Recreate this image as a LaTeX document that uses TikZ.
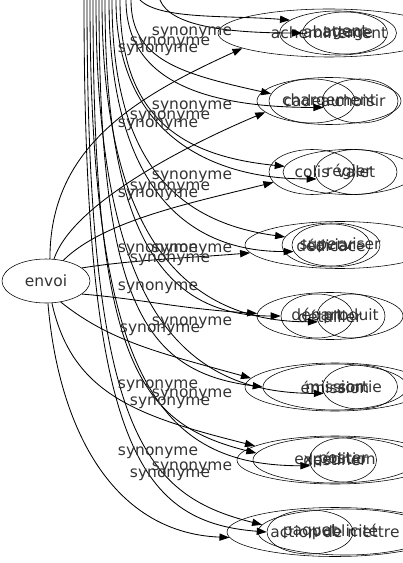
\documentclass[tikz,border=0pt]{standalone}
\usepackage{fontspec}
\setmainfont{DejaVu Sans}
\usetikzlibrary{shapes.geometric, arrows.meta}

\begin{document}
\begin{tikzpicture}[x=0.025cm, y=-0.025cm, font=\fontsize{11}{13}\selectfont,
  mot/.style={draw, ellipse, inner sep=0pt, text=black!80},
  ell/.style 2 args={minimum width=#1*0.025cm, minimum height=#2*0.025cm},
  syn/.style={-{Triangle[length=2.5mm, width=1.8mm]}, line width=0.6pt},
  lab/.style={text=black!80, inner sep=0pt}]
\useasboundingbox (0,0) rectangle (402,563);

\node[mot, ell={88}{44}] (envoi) at (46,281) {envoi};

% les mots d'arrivee
\node[mot, ell={222}{48}] (acheminement) at (329,33) {\makebox[0pt]{acheminement}};
\node[mot, ell={117}{44}] (abattage) at (338,33) {\makebox[0pt]{abattage}};
\node[mot, ell={85}{42}] (agent) at (345,33) {\makebox[0pt]{agent}};

\node[mot, ell={144}{47}] (chargement) at (329,101) {\makebox[0pt]{chargement}};
\node[mot, ell={86}{44}] (cadeau) at (312,101) {\makebox[0pt]{cadeau}};
\node[mot, ell={76}{44}] (choisir) at (360,101) {\makebox[0pt]{choisir}};

\node[mot, ell={86}{45}] (colis) at (312,172) {\makebox[0pt]{colis}};
\node[mot, ell={132}{45}] (regler) at (349,172) {\makebox[0pt]{régler}};
\node[mot, ell={82}{45}] (valet) at (356,172) {\makebox[0pt]{valet}};

\node[mot, ell={190}{47}] (superviser) at (340,245) {\makebox[0pt]{superviser}};
\node[mot, ell={98}{44}] (dedicace) at (331,245) {\makebox[0pt]{dédicace}};
\node[mot, ell={78}{42}] (caviar) at (331,245) {\makebox[0pt]{caviar}};

\node[mot, ell={146}{47}] (detailler) at (330,316) {\makebox[0pt]{détailler}};
\node[mot, ell={72}{44}] (depart) at (317,316) {\makebox[0pt]{départ}};
\node[mot, ell={68}{44}] (produit) at (351,316) {\makebox[0pt]{produit}};

\node[mot, ell={180}{48}] (emission) at (335,387) {\makebox[0pt]{émission}};
\node[mot, ell={144}{46}] (mission) at (335,387) {\makebox[0pt]{mission}};
\node[mot, ell={75}{44}] (sortie) at (360,387) {\makebox[0pt]{sortie}};

\node[mot, ell={196}{48}] (expedition) at (335,460) {\makebox[0pt]{expédition}};
\node[mot, ell={164}{46}] (destiner) at (335,460) {\makebox[0pt]{destiner}};
\node[mot, ell={67}{44}] (poster) at (343,460) {\makebox[0pt]{poster}};

\node[mot, ell={216}{49}] (action) at (335,532) {\makebox[0pt]{action de mettre}};
\node[mot, ell={174}{46}] (publicite) at (345,532) {\makebox[0pt]{publicité}};
\node[mot, ell={86}{44}] (paquet) at (310,532) {\makebox[0pt]{paquet}};

% bouts libres en haut
\foreach \n/\x in {t1/140, t2/160, t3/131, t4/126, t5/120, t6/116, t7/112, t8/109,
                   t9/105, t10/102, t11/99, t12/96, t13/93, t14/90, t15/87, t16/84}
  \coordinate (\n) at (\x,0);

% depuis envoi
\draw[syn] (envoi.80) .. controls +(0,-110) and +(-110,50) .. (acheminement.190);
\draw[syn] (envoi.70) .. controls +(20,-60) and +(-60,25) .. (chargement.190);
\draw[syn] (envoi.50) .. controls +(40,-40) and +(-80,20) .. (colis.195);
\draw[syn] (envoi.20) .. controls +(50,-8) and +(-60,5) .. (superviser.185);
\draw[syn] (envoi.-20) .. controls +(60,5) and +(-80,-5) .. (detailler.178);
\draw[syn] (envoi.-55) .. controls +(50,40) and +(-90,-25) .. (emission.174);
\draw[syn] (envoi.-75) .. controls +(20,90) and +(-120,-30) .. (expedition.170);
\draw[syn] (envoi.-85) .. controls +(10,120) and +(-120,-5) .. (action.183);

% depuis le haut
\draw[syn] (t1) .. controls +(20,20) and +(-60,-5) .. (abattage.165);
\draw[syn] (t2) .. controls +(10,25) and +(-80,0) .. (agent.180);
\draw[syn] (t3) .. controls +(0,60) and +(-90,-20) .. (cadeau.170);
\draw[syn] (t4) .. controls +(0,80) and +(-120,0) .. (choisir.190);
\draw[syn] (t5) .. controls +(0,120) and +(-100,-10) .. (regler.175);
\draw[syn] (t6) .. controls +(0,130) and +(-110,0) .. (valet.190);
\draw[syn] (t7) .. controls +(0,160) and +(-110,-15) .. (dedicace.170);
\draw[syn] (t8) .. controls +(0,170) and +(-120,0) .. (caviar.190);
\draw[syn] (t9) .. controls +(0,230) and +(-120,0) .. (depart.180);
\draw[syn] (t10) .. controls +(0,240) and +(-130,0) .. (produit.190);
\draw[syn] (t11) .. controls +(0,300) and +(-120,-15) .. (mission.180);
\draw[syn] (t12) .. controls +(0,310) and +(-140,0) .. (sortie.190);
\draw[syn] (t13) .. controls +(0,360) and +(-120,-30) .. (destiner.175);
\draw[syn] (t14) .. controls +(0,380) and +(-150,0) .. (poster.190);
\draw[syn] (t15) .. controls +(0,430) and +(-120,-30) .. (publicite.175);
\draw[syn] (t16) .. controls +(0,440) and +(-130,-10) .. (paquet.180);

% etiquettes
\foreach \x/\y [count=\i] in {192/33, 170/43, 158/50, 192/107, 170/117, 158/125,
    192/177, 170/188, 158/195, 158/250, 192/250, 170/260, 158/288, 192/323, 160/330,
    158/386, 192/395, 170/403, 158/453, 192/468, 170/475}
  \node[lab] (syn\i) at (\x,\y) {synonyme};

\end{tikzpicture}
\end{document}
